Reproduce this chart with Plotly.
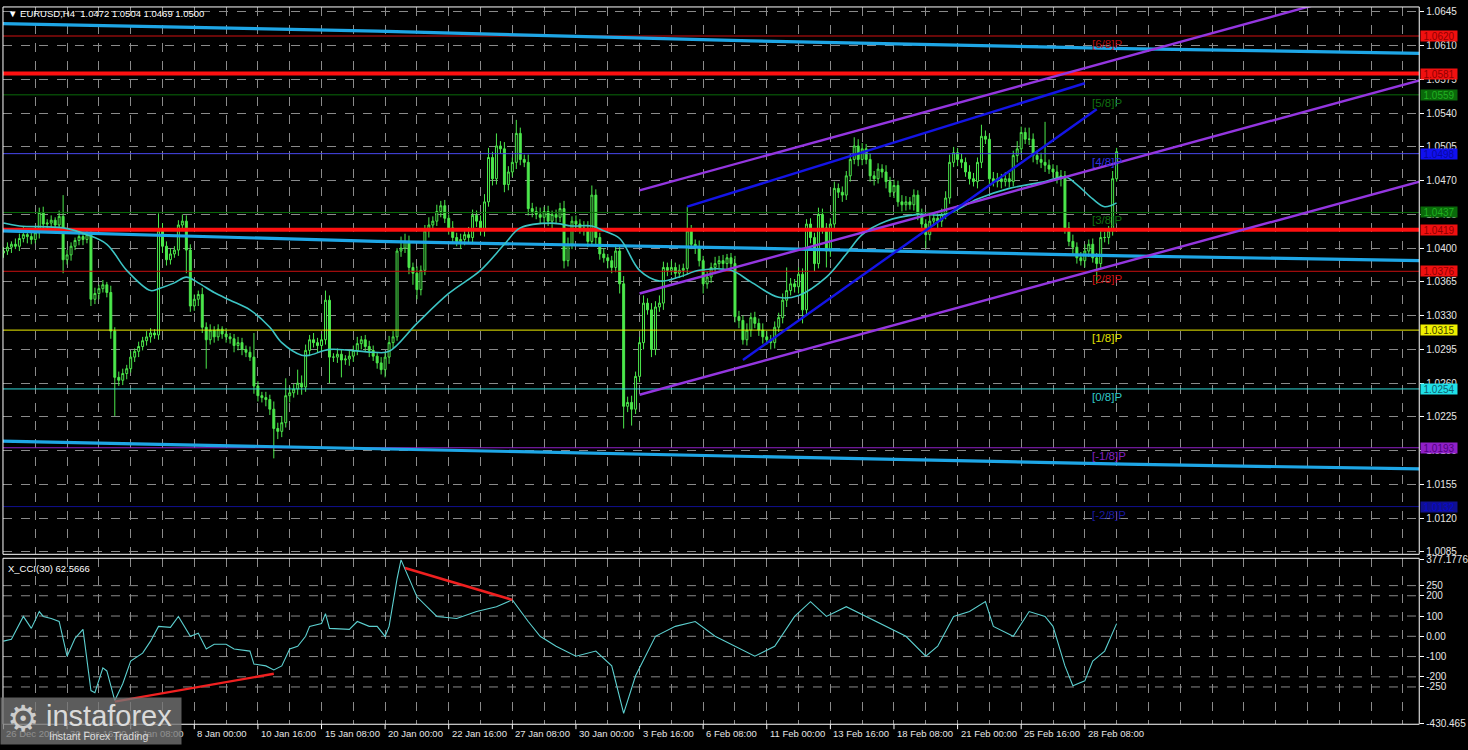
import plotly.graph_objects as go

W, H = 1468, 750

# ---------------- DATA ----------------
# closes in pips above 1.0000 (1.0397 -> 397), one per H4 bar
close_pips = [
    397, 401, 404, 402, 410, 414, 412, 409, 416, 437,
    425, 426, 429, 424, 433, 388, 393, 402, 408, 412,
    409, 414, 347, 353, 358, 362, 354, 314, 266, 263,
    270, 275, 287, 293, 298, 304, 308, 312, 310, 418,
    402, 388, 394, 398, 424, 428, 398, 340, 347, 352,
    318, 305, 315, 308, 316, 311, 308, 306, 299, 302,
    295, 292, 287, 257, 247, 245, 243, 233, 213, 210,
    219, 247, 250, 254, 260, 256, 294, 305, 302, 299,
    305, 346, 287, 287, 290, 284, 285, 288, 294, 301,
    305, 298, 294, 288, 281, 274, 287, 302, 308, 397,
    400, 407, 380, 374, 357, 377, 418, 424, 428, 438,
    444, 431, 421, 411, 407, 409, 414, 411, 434, 428,
    418, 448, 494, 472, 506, 503, 466, 479, 489, 519,
    492, 489, 441, 438, 435, 432, 438, 428, 435, 432,
    441, 387, 404, 428, 425, 421, 418, 407, 455, 411,
    394, 390, 387, 380, 397, 363, 236, 240, 233, 267,
    302, 343, 336, 295, 339, 343, 380, 377, 380, 374,
    377, 379, 418, 404, 401, 387, 363, 370, 380, 384,
    387, 384, 390, 384, 329, 325, 305, 315, 328, 322,
    315, 308, 305, 302, 318, 328, 346, 356, 363, 360,
    373, 336, 425, 411, 384, 435, 421, 397, 425, 462,
    458, 455, 475, 492, 506, 492, 503, 492, 475, 472,
    482, 479, 469, 458, 465, 448, 445, 448, 445, 455,
    435, 425, 414, 428, 431, 428, 435, 452, 489, 499,
    492, 489, 479, 472, 469, 489, 516, 513, 472, 469,
    472, 469, 472, 469, 496, 503, 520, 513, 513, 496,
    492, 489, 486, 482, 479, 472, 475, 421, 407, 401,
    390, 387, 397, 404, 390, 384, 411, 411, 418, 472,
    500,
]
first_open_pips = 395
upper_wick = [
    4, 5, 3, 6, 5, 8, 4, 6, 7, 5, 6, 4, 5, 3, 6, 22, 5, 4, 3, 6,
    4, 5, 5, 6, 4, 5, 3, 7, 4, 6, 5, 4, 6, 3, 5, 4, 6, 5, 4, 18,
    8, 5, 6, 4, 5, 7, 6, 6, 5, 4, 7, 5, 6, 4, 5, 3, 6, 4, 5, 6,
    5, 4, 6, 25, 5, 4, 6, 5, 8, 6, 7, 18, 6, 5, 14, 8, 6, 5, 7, 5,
    6, 10, 5, 4, 6, 5, 4, 6, 5, 7, 4, 5, 6, 5, 4, 6, 5, 7, 6, 3,
    12, 8, 6, 5, 7, 5, 6, 8, 5, 7, 5, 6, 4, 7, 5, 6, 5, 8, 6, 5,
    6, 8, 10, 6, 13, 5, 7, 6, 5, 14, 6, 5, 8, 6, 5, 7, 5, 6, 4, 5,
    6, 8, 7, 5, 6, 5, 7, 10, 10, 6, 5, 6, 4, 5, 7, 5, 8, 6, 7, 5,
    6, 8, 5, 7, 6, 8, 6, 5, 7, 5, 6, 5, 25, 6, 5, 7, 5, 6, 5, 7,
    5, 6, 4, 5, 8, 6, 5, 7, 5, 6, 5, 7, 6, 5, 6, 5, 7, 24, 6, 5,
    7, 6, 5, 6, 5, 7, 6, 5, 6, 7, 5, 6, 5, 6, 9, 7, 6, 5, 6, 5,
    6, 5, 7, 5, 6, 5, 7, 6, 5, 6, 5, 6, 5, 7, 6, 5, 6, 7, 8, 6,
    5, 6, 5, 7, 6, 5, 12, 6, 5, 7, 6, 5, 7, 6, 5, 8, 6, 5, 12, 6,
    5, 7, 42, 6, 5, 7, 6, 5, 6, 7, 5, 6, 7, 5, 6, 5, 7, 6, 5, 8,
    4,
]
lower_wick = [
    5, 4, 6, 3, 5, 4, 7, 5, 4, 6, 5, 6, 4, 5, 7, 14, 5, 6, 4, 5,
    6, 4, 7, 5, 6, 4, 5, 8, 40, 6, 5, 6, 4, 5, 6, 4, 5, 6, 4, 5,
    7, 6, 5, 4, 6, 5, 24, 6, 5, 7, 6, 30, 5, 6, 4, 5, 6, 5, 7, 5,
    6, 5, 4, 8, 6, 5, 7, 6, 31, 8, 6, 5, 7, 5, 6, 8, 5, 6, 5, 7,
    6, 5, 27, 5, 6, 18, 5, 7, 6, 5, 6, 5, 7, 5, 6, 5, 8, 7, 6, 4,
    6, 5, 7, 12, 10, 6, 5, 7, 6, 5, 6, 5, 7, 6, 5, 8, 6, 5, 7, 6,
    5, 6, 5, 7, 6, 5, 8, 6, 5, 7, 6, 5, 7, 6, 5, 7, 6, 5, 8, 6,
    5, 8, 6, 5, 7, 6, 5, 6, 5, 7, 6, 5, 8, 6, 5, 10, 23, 6, 17, 5,
    6, 7, 5, 8, 6, 5, 7, 6, 5, 6, 5, 7, 6, 5, 7, 6, 10, 5, 6, 7,
    5, 6, 7, 5, 6, 8, 5, 6, 7, 5, 6, 7, 5, 7, 6, 5, 6, 7, 5, 6,
    7, 14, 5, 6, 8, 5, 6, 17, 6, 5, 6, 7, 5, 6, 5, 7, 6, 5, 6, 7,
    5, 6, 7, 5, 6, 5, 7, 6, 5, 6, 6, 5, 14, 6, 5, 7, 6, 5, 6, 5,
    7, 6, 5, 6, 5, 7, 6, 5, 6, 5, 6, 7, 5, 6, 5, 7, 6, 5, 6, 7,
    5, 6, 7, 5, 6, 5, 8, 6, 5, 7, 6, 5, 7, 6, 5, 21, 6, 5, 7, 5,
    3,
]

# moving average (thin cyan) read at bar positions
ma_bars = [0, 4, 15, 21, 26, 31, 37, 39, 43, 46, 49, 53, 57, 62, 67, 70, 75, 77, 82,
           93, 97, 104, 112, 120, 126, 130, 138, 143, 148, 151, 155, 160, 165, 170,
           175, 183, 188, 195, 200, 207, 212, 216, 222, 230, 237, 245, 253, 262, 267,
           270, 274, 277, 280]
ma_vals = [1.0426, 1.0423, 1.0421, 1.0414, 1.0404, 1.0377, 1.0356, 1.0358, 1.0364,
           1.0370, 1.0364, 1.0354, 1.0346, 1.0336, 1.0318, 1.0302, 1.0289, 1.0289,
           1.0295, 1.0292, 1.0293, 1.0322, 1.0353, 1.0377, 1.0404, 1.0421, 1.0426,
           1.0423, 1.0423, 1.0418, 1.0410, 1.0377, 1.0366, 1.0370, 1.0377, 1.0377,
           1.0365, 1.0349, 1.0351, 1.0370, 1.0394, 1.0414, 1.0428, 1.0435, 1.0435,
           1.0451, 1.0462, 1.0469, 1.0474, 1.0466, 1.0451, 1.0443, 1.0447]

# thick blue envelope lines
band_bars = [-1, 94, 188, 282, 357]
band_top = [1.0633, 1.0625, 1.0615, 1.0607, 1.0602]
band_mid = [1.0418, 1.0407, 1.0400, 1.0392, 1.0387]
band_low = [1.0200, 1.0192, 1.0184, 1.0176, 1.0171]

# purple regression channel
chan_bars = [160, 357]
chan_top = [1.0460, 1.0683]
chan_mid = [1.0353, 1.0575]
chan_low = [1.0248, 1.0470]

# blue trend lines
trend1_bars = [172, 272]
trend1_vals = [1.0443, 1.0571]
trend2_bars = [186, 275]
trend2_vals = [1.0284, 1.0544]

# horizontal levels
levels = [1.0620, 1.0581, 1.0559, 1.0498, 1.0437, 1.0419, 1.0376, 1.0315, 1.0254, 1.0193, 1.0132]
level_labels = ["1.0620", "1.0581", "1.0559", "1.0498", "1.0437", "1.0419", "1.0376", "1.0315", "1.0254", "1.0193", "1.0132"]
level_colors = ["#D01010", "#FF1010", "#0A6A0A", "#4848F0", "#0A6A0A", "#FF1010", "#C81010", "#F0F000", "#30D8D8", "#9020C8", "#101090"]
level_widths = [1, 4, 1, 1, 1, 4, 1, 1, 1, 1, 1]
label_bg = ["#F01010", "#F01010", "#0A6A0A", "#1010F0", "#0A6A0A", "#F01010", "#F01010", "#F0F000", "#20E0E8", "#9020C8", "#101090"]
label_fg = ["#900000", "#900000", "#20B020", "#0808A0", "#20B020", "#900000", "#900000", "#404000", "#106070", "#500080", "#0808D0"]

murrey_names = ["[6/8]P", "[5/8]P", "[4/8]P", "[3/8]P", "[2/8]P", "[1/8]P", "[0/8]P", "[-1/8]P", "[-2/8]P"]
murrey_levels = [1.0620, 1.0559, 1.0498, 1.0437, 1.0376, 1.0315, 1.0254, 1.0193, 1.0132]
murrey_colors = ["#B01010", "#107010", "#3030E0", "#107010", "#D01010", "#E0E000", "#30C8C8", "#8020C0", "#1818A0"]

price_ticks = [1.0645, 1.0610, 1.0575, 1.0540, 1.0505, 1.0470, 1.0435, 1.0400, 1.0365,
               1.0330, 1.0295, 1.0260, 1.0225, 1.0190, 1.0155, 1.0120, 1.0085]

# CCI(30)
cci_bars = [0, 2, 5, 7, 9, 10, 12, 14, 16, 18, 20, 21, 22, 23, 25, 26, 28, 30, 32, 35,
            37, 39, 42, 44, 47, 49, 51, 53, 56, 58, 62, 63, 66, 68, 70, 72, 74, 76, 77,
            80, 81, 82, 85, 87, 89, 92, 94, 96, 97, 99, 100, 104, 109, 114, 119, 124,
            128, 132, 135, 139, 144, 149, 153, 156, 159, 164, 169, 174, 179, 184, 189,
            194, 199, 203, 207, 212, 217, 222, 227, 232, 235, 239, 243, 247, 249, 254,
            258, 262, 264, 267, 269, 272, 274, 277, 280]
cci_vals = [-24, -15, 98, 39, 122, 98, 88, 73, -98, -10, 34, -107, -268, -278, -156,
            -171, -317, -234, -122, -83, -24, 49, 44, 98, 0, 15, -63, -39, -39, -63,
            -73, -137, -146, -166, -146, -63, -49, 0, 49, 63, 112, 39, 34, 34, 73, 49,
            49, 0, 49, 283, 377, 195, 98, 88, 122, 146, 180, 73, 0, -49, -98, -73, -146,
            -380, -195, 0, 49, 73, 0, -49, -98, -49, 98, 171, 98, 146, 98, 49, 0, -98,
            -49, 98, 122, 171, 49, 0, 122, 98, 49, -146, -244, -220, -122, -73, 62.5666]
cci_ticks = [377.1776, 250, 200, 100, 0, -100, -200, -250, -430.465]
cci_ticktext = ["377.1776", "250", "200", "100", "0.00", "-100", "-200", "-250", "-430.465"]
div_top_bars = [101, 128]
div_top_vals = [337, 180]
div_low_bars = [28, 68]
div_low_vals = [-322, -185]

date_bars = [0, 16, 32, 48, 64, 80, 96, 112, 128, 144, 160, 176, 192, 208, 224, 240, 256, 272]
date_labels = ["26 Dec 2024", "30 Dec 16:00", "3 Jan 08:00", "8 Jan 00:00", "10 Jan 16:00",
               "15 Jan 08:00", "20 Jan 00:00", "22 Jan 16:00", "27 Jan 08:00", "30 Jan 00:00",
               "3 Feb 16:00", "6 Feb 08:00", "11 Feb 00:00", "13 Feb 16:00", "18 Feb 08:00",
               "21 Feb 00:00", "25 Feb 16:00", "28 Feb 08:00"]

title_text = "EURUSD,H4  1.0472 1.0504 1.0469 1.0500"
cci_title = "X_CCI(30) 62.5666"

# ---------------- BUILD ----------------
closes = [1 + v / 10000 for v in close_pips]
opens = [1 + first_open_pips / 10000] + closes[:-1]
highs = [max(o, c) + u / 10000 for o, c, u in zip(opens, closes, upper_wick)]
lows = [min(o, c) - d / 10000 for o, c, d in zip(opens, closes, lower_wick)]
bars = list(range(len(closes)))

FONT = "Liberation Sans, Arial, sans-serif"
FS = 9.5
GRID = "#8a8a8a"
TXT = "#E6E6E6"
XL, XR = 3 / W, 1428 / W
MAIN_Y = [(750 - 557) / H, (750 - 3) / H]
CCI_Y = [(750 - 729) / H, (750 - 561) / H]
XRANGE = [(3 - 3.5) / 4, (1428 - 3.5) / 4]

fig = go.Figure()

def line(xs, ys, color, width, xa="x", ya="y", dash=None, shape="linear"):
    fig.add_trace(go.Scatter(x=xs, y=ys, mode="lines", xaxis=xa, yaxis=ya,
                             line=dict(color=color, width=width, dash=dash, shape=shape),
                             hoverinfo="skip", showlegend=False))

# horizontal levels (behind)
for lv, col, wd in zip(levels, level_colors, level_widths):
    line([XRANGE[0] - 2, XRANGE[1] + 2], [lv, lv], col, wd)

# thick blue envelopes
line(band_bars, band_top, "#1EA6E6", 3.2)
line(band_bars, band_mid, "#1EA6E6", 3.2)
line(band_bars, band_low, "#1EA6E6", 3.2)

# candles
fig.add_trace(go.Candlestick(
    x=bars, open=opens, high=highs, low=lows, close=closes,
    increasing=dict(line=dict(color="#4CE84C", width=1), fillcolor="#000000"),
    decreasing=dict(line=dict(color="#4CE84C", width=1), fillcolor="#4CE84C"),
    whiskerwidth=0, showlegend=False, hoverinfo="skip", xaxis="x", yaxis="y"))

# moving average
line(ma_bars, ma_vals, "#3CC4C4", 1.6, shape="spline")

# channel + trend lines
for ys in (chan_top, chan_mid, chan_low):
    line(chan_bars, ys, "#9436E0", 2.4)
line(trend1_bars, trend1_vals, "#1414E6", 2.4)
line(trend2_bars, trend2_vals, "#1414E6", 2.4)

# CCI
line(cci_bars, cci_vals, "#5CCFCF", 1.1, xa="x2", ya="y2")
line(div_top_bars, div_top_vals, "#F02020", 2.4, xa="x2", ya="y2")
line(div_low_bars, div_low_vals, "#F02020", 2.4, xa="x2", ya="y2")

axis_common = dict(showline=False, zeroline=False, range=XRANGE,
                   tickmode="array", tickvals=list(range(0, 360, 8)),
                   showgrid=True, gridcolor=GRID, griddash="dash", gridwidth=1,
                   showticklabels=False, ticks="")

fig.update_layout(
    width=W, height=H, margin=dict(l=0, r=0, t=0, b=0),
    paper_bgcolor="#000000", plot_bgcolor="#000000",
    font=dict(family=FONT, color=TXT, size=FS),
    xaxis=dict(domain=[XL, XR], anchor="y", **axis_common, rangeslider=dict(visible=False)),
    xaxis2=dict(domain=[XL, XR], anchor="y2", matches="x", **axis_common),
    yaxis=dict(domain=MAIN_Y, range=[1.0645 - (557 - 8) / 9760, 1.0645 + 5 / 9760],
               side="right", anchor="x", tickmode="array", tickvals=price_ticks,
               ticktext=[f"{t:.4f}" for t in price_ticks], ticks="outside", ticklen=4,
               tickcolor="#FFFFFF", tickfont=dict(family=FONT, size=10, color=TXT),
               ticklabeloverflow="allow",
               showgrid=True, gridcolor=GRID, griddash="dash", zeroline=False),
    yaxis2=dict(domain=CCI_Y, range=[-434, 385], side="right", anchor="x2",
                tickmode="array", tickvals=cci_ticks, ticktext=cci_ticktext,
                ticks="outside", ticklen=4, tickcolor="#FFFFFF",
                tickfont=dict(family=FONT, size=10, color=TXT),
                ticklabeloverflow="allow",
                showgrid=False, zeroline=False),
)

shapes = []
# CCI grid lines
for v in [250, 200, 100, 0, -100, -200, -250]:
    shapes.append(dict(type="line", xref="paper", yref="y2", x0=XL, x1=XR, y0=v, y1=v,
                       line=dict(color=GRID, width=1, dash="dash"), layer="below"))
# panel borders
for y0, y1 in (MAIN_Y, CCI_Y):
    shapes.append(dict(type="rect", xref="paper", yref="paper", x0=XL, x1=XR, y0=y0, y1=y1,
                       line=dict(color="#FFFFFF", width=1), fillcolor="rgba(0,0,0,0)"))
# date tick marks
for b in date_bars:
    shapes.append(dict(type="line", xref="x2", yref="paper", x0=b, x1=b,
                       y0=CCI_Y[0] - 5 / H, y1=CCI_Y[0], line=dict(color="#FFFFFF", width=1)))
fig.update_layout(shapes=shapes)

ann = []
for lv, txt, bg, fg in zip(levels, level_labels, label_bg, label_fg):
    ann.append(dict(xref="paper", yref="y", x=1429 / W, y=lv, text=txt, showarrow=False,
                    xanchor="left", yanchor="middle", bgcolor=bg, width=36, height=10,
                    borderpad=0, font=dict(family=FONT, size=10, color=fg)))
for nm, lv, col in zip(murrey_names, murrey_levels, murrey_colors):
    ann.append(dict(xref="x", yref="y", x=273.4, y=lv, text=nm, showarrow=False,
                    xanchor="left", yanchor="middle", yshift=-8,
                    font=dict(family=FONT, size=11.5, color=col)))
for b, t in zip(date_bars, date_labels):
    ann.append(dict(xref="x2", yref="paper", x=b, y=(750 - 738) / H, text=t,
                    showarrow=False, xanchor="left", yanchor="middle", xshift=1,
                    font=dict(family=FONT, size=FS, color=TXT)))
ann.append(dict(xref="paper", yref="paper", x=6 / W, y=(750 - 10) / H, text="▼ " + title_text,
                showarrow=False, xanchor="left", yanchor="middle",
                font=dict(family=FONT, size=FS, color="#FFFFFF")))
ann.append(dict(xref="paper", yref="paper", x=6 / W, y=(750 - 571) / H, text=cci_title,
                showarrow=False, xanchor="left", yanchor="middle",
                font=dict(family=FONT, size=FS, color="#FFFFFF")))
# logo (drawn over the first date labels, semi-transparent)
ann.append(dict(xref="paper", yref="paper", x=0, y=0, text="", showarrow=False,
                xanchor="left", yanchor="bottom", width=180, height=46, borderpad=0,
                bgcolor="rgba(118,118,118,0.78)"))
ann.append(dict(xref="paper", yref="paper", x=5 / W, y=(750 - 723) / H, text="⚙",
                showarrow=False, xanchor="left", yanchor="middle",
                font=dict(family="DejaVu Sans", size=36, color="rgba(225,225,225,0.85)")))
ann.append(dict(xref="paper", yref="paper", x=44 / W, y=(750 - 721) / H, text="instaforex",
                showarrow=False, xanchor="left", yanchor="middle",
                font=dict(family="Liberation Sans, Arial", size=29, color="rgba(232,232,232,0.92)")))
ann.append(dict(xref="paper", yref="paper", x=47 / W, y=(750 - 741) / H, text="Instant Forex Trading",
                showarrow=False, xanchor="left", yanchor="middle",
                font=dict(family="Liberation Sans, Arial", size=10.5, color="rgba(232,232,232,0.92)")))
fig.update_layout(annotations=ann)

fig.write_html("out.html", config={"displayModeBar": False},
               post_script="document.body.style.margin='0px';document.body.style.overflow='hidden';")
